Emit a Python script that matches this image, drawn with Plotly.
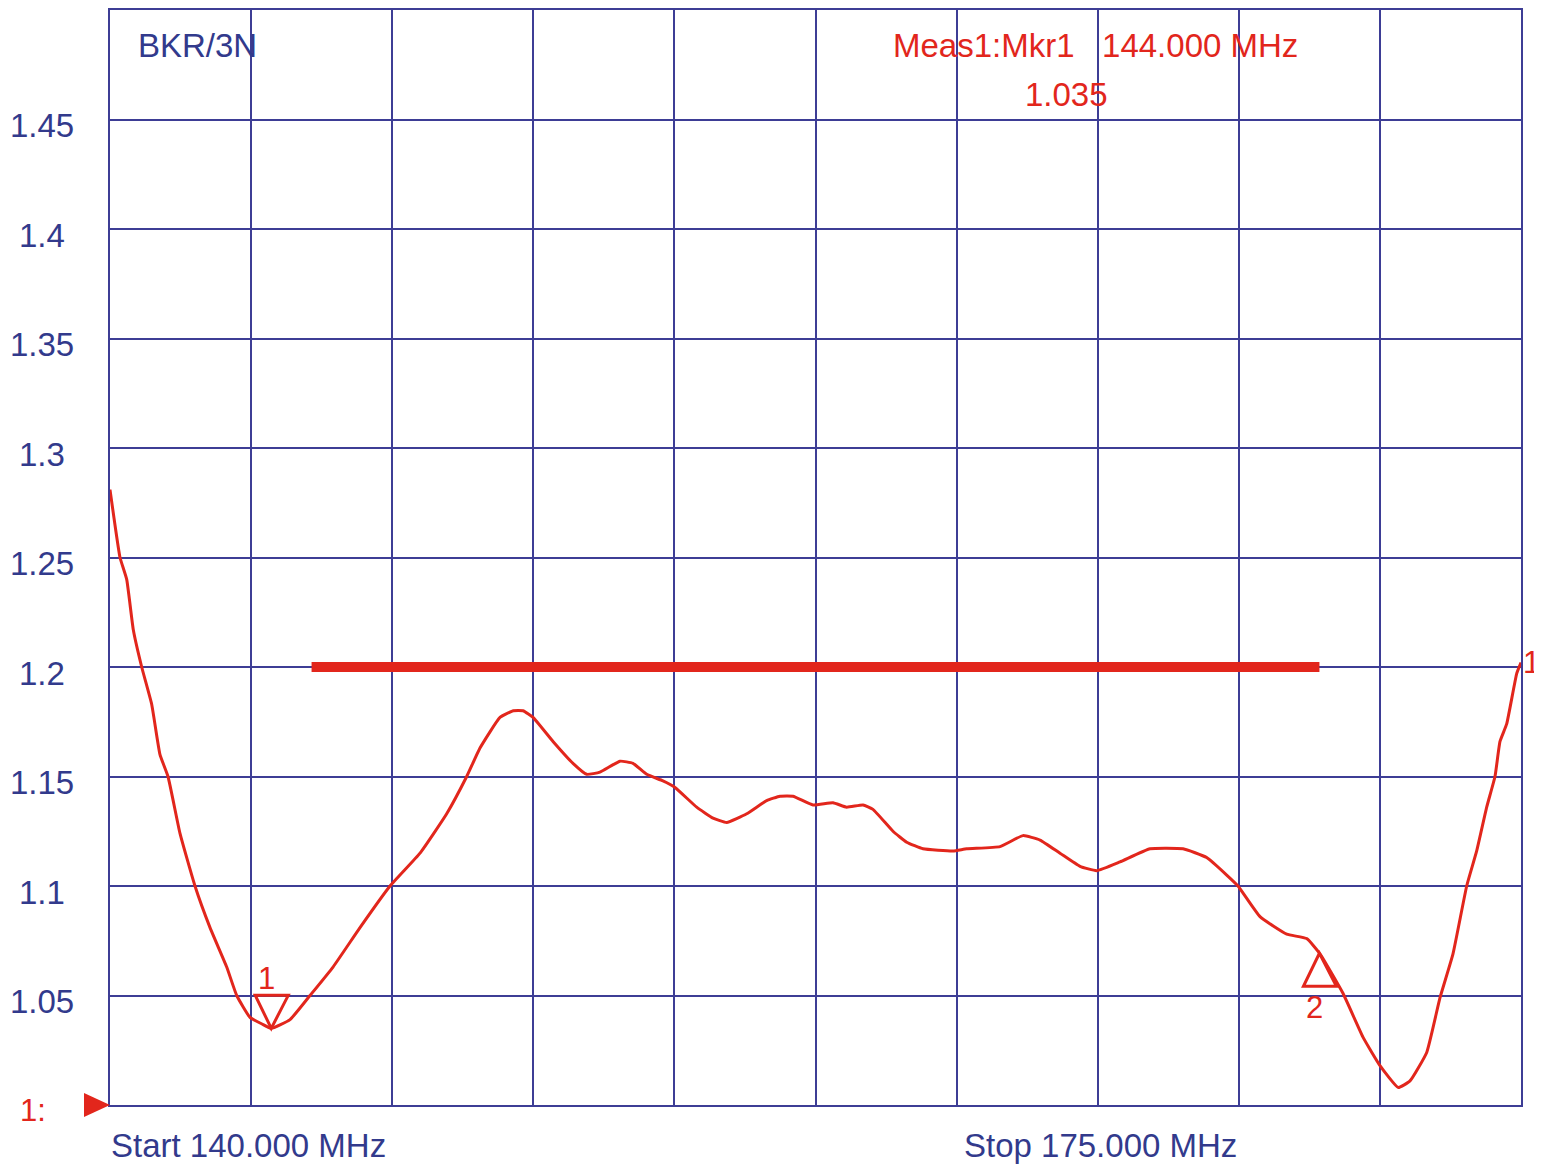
import numpy as np
import plotly.graph_objects as go

# ---- data ----
freq_mhz = [140.000, 140.099, 140.248, 140.414, 140.578, 140.786, 141.034, 141.240, 141.439, 141.736,
            142.108, 142.481, 142.895, 143.143, 143.473, 143.770, 144.000, 144.465, 144.961, 145.532,
            146.201, 146.946, 147.690, 148.352, 148.848, 149.178, 149.674, 150.004, 150.245, 150.493,
            150.989, 151.485, 151.825, 152.154, 152.651, 152.973, 153.313, 153.717, 154.015, 154.553,
            154.958, 155.297, 155.794, 156.290, 156.620, 156.942, 157.438, 157.934, 158.274, 158.678,
            158.926, 159.422, 159.762, 160.167, 160.911, 161.251, 162.077, 162.647, 163.069, 163.565,
            164.061, 164.475, 165.053, 165.798, 166.616, 167.204, 167.700, 167.980, 168.526, 169.188,
            169.684, 170.014, 170.584, 171.080, 171.502, 171.956, 172.247, 172.661, 172.991, 173.313,
            173.653, 173.901, 174.149, 174.355, 174.479, 174.645, 174.893, 175.000]
vswr = [1.281, 1.268, 1.250, 1.240, 1.217, 1.200, 1.183, 1.160, 1.150, 1.124,
        1.100, 1.081, 1.063, 1.050, 1.040, 1.037, 1.035, 1.039, 1.050, 1.063,
        1.081, 1.100, 1.115, 1.133, 1.150, 1.163, 1.177, 1.180, 1.180, 1.177,
        1.166, 1.156, 1.151, 1.152, 1.157, 1.156, 1.151, 1.148, 1.145, 1.136,
        1.131, 1.129, 1.133, 1.139, 1.141, 1.141, 1.137, 1.138, 1.136, 1.137,
        1.135, 1.125, 1.120, 1.117, 1.116, 1.117, 1.118, 1.123, 1.121, 1.115,
        1.109, 1.107, 1.111, 1.117, 1.117, 1.113, 1.105, 1.100, 1.086, 1.078,
        1.076, 1.069, 1.051, 1.031, 1.018, 1.008, 1.011, 1.024, 1.049, 1.069,
        1.100, 1.116, 1.136, 1.150, 1.166, 1.174, 1.197, 1.202]

limit_freqs = [145.0, 170.0]
limit_value = 1.2
marker_freqs = [144.0, 170.0]
marker_labels = ["1", "2"]
y_tick_values = [1.45, 1.4, 1.35, 1.3, 1.25, 1.2, 1.15, 1.1, 1.05]
y_tick_labels = ["1.45", "1.4", "1.35", "1.3", "1.25", "1.2", "1.15", "1.1", "1.05"]
start_mhz, stop_mhz = 140.0, 175.0
y_min, y_max = 1.0, 1.5
title_text = "BKR/3N"

NAVY = "#323a8c"
GRID = "#3d3d95"
RED = "#e2261c"
FONT = "Liberation Sans, Arial, sans-serif"
FS = 33

marker_vals = [float(np.interp(f, freq_mhz, vswr)) for f in marker_freqs]

fig = go.Figure()
fig.add_trace(go.Scatter(x=freq_mhz, y=vswr, mode="lines",
                         line=dict(color=RED, width=3, shape="spline", smoothing=0.4),
                         hoverinfo="skip", showlegend=False, cliponaxis=False))
fig.add_trace(go.Scatter(x=limit_freqs, y=[limit_value, limit_value], mode="lines",
                         line=dict(color=RED, width=10), showlegend=False, hoverinfo="skip"))

shapes = []
annotations = []
# marker triangles (1 points down from above, 2 points up from below)
for f, v, lab in zip(marker_freqs, marker_vals, marker_labels):
    if lab == "1":
        path = "M 0 0 L -16 33 L 17 33 Z"
        ys = 50
    else:
        path = "M 0 0 L -16 -33 L 17 -33 Z"
        ys = -54
    shapes.append(dict(type="path", xref="x", yref="y", xsizemode="pixel", ysizemode="pixel",
                       xanchor=f, yanchor=v, path=path,
                       line=dict(color=RED, width=3), fillcolor="rgba(0,0,0,0)"))
    annotations.append(dict(x=f, y=v, xref="x", yref="y", text=lab, showarrow=False,
                            xshift=-5, yshift=ys, font=dict(family=FONT, size=31, color=RED)))

# reference level pointer at left
shapes.append(dict(type="path", xref="paper", yref="paper", xsizemode="pixel", ysizemode="pixel",
                   xanchor=0, yanchor=0, path="M 0 0 L -26 12 L -26 -12 Z",
                   line=dict(color=RED, width=0), fillcolor=RED))
annotations.append(dict(x=-0.0546, y=y_min, xref="paper", yref="y", text="1:", showarrow=False,
                        xanchor="center", yshift=-5, font=dict(family=FONT, size=31, color=RED)))
# trace end label
annotations.append(dict(x=freq_mhz[-1], y=vswr[-1], xref="x", yref="y", text="1", showarrow=False,
                        xanchor="left", xshift=0, yshift=0, font=dict(family=FONT, size=31, color=RED)))

# y tick labels
for v, t in zip(y_tick_values, y_tick_labels):
    annotations.append(dict(x=-0.0482, y=v, xref="paper", yref="y", text=t, showarrow=False,
                            xanchor="center", yshift=-6, font=dict(family=FONT, size=FS, color=NAVY)))

# header texts
annotations.append(dict(x=0.0185, y=0.9672, xref="paper", yref="paper", text=title_text,
                        showarrow=False, xanchor="left", yanchor="middle",
                        font=dict(family=FONT, size=FS, color=NAVY)))
annotations.append(dict(x=0.6982, y=0.9672, xref="paper", yref="paper",
                        text=f"Meas1:Mkr1\u00a0\u00a0\u00a0{marker_freqs[0]:.3f} MHz",
                        showarrow=False, xanchor="center", yanchor="middle",
                        font=dict(family=FONT, size=FS, color=RED)))
annotations.append(dict(x=0.678, y=0.9225, xref="paper", yref="paper",
                        text=f"{marker_vals[0]:.3f}",
                        showarrow=False, xanchor="center", yanchor="middle",
                        font=dict(family=FONT, size=FS, color=RED)))
annotations.append(dict(x=-0.001, y=-0.0374, xref="paper", yref="paper",
                        text=f"Start {start_mhz:.3f} MHz", showarrow=False,
                        xanchor="left", yanchor="middle", font=dict(family=FONT, size=FS, color=NAVY)))
annotations.append(dict(x=0.6035, y=-0.0374, xref="paper", yref="paper",
                        text=f"Stop {stop_mhz:.3f} MHz", showarrow=False,
                        xanchor="left", yanchor="middle", font=dict(family=FONT, size=FS, color=NAVY)))

# page body has an 8px default margin, so the figure is sized/offset to compensate
fig.update_layout(
    width=1534, height=1159,
    margin=dict(l=102, r=21, t=0, b=62),
    paper_bgcolor="white", plot_bgcolor="white",
    showlegend=False,
    shapes=shapes, annotations=annotations,
    xaxis=dict(range=[start_mhz, stop_mhz], dtick=(stop_mhz - start_mhz) / 10, tick0=start_mhz,
               showgrid=True, gridcolor=GRID, gridwidth=2, zeroline=False,
               showline=True, linecolor=GRID, linewidth=2, mirror=True,
               showticklabels=False, ticks=""),
    yaxis=dict(range=[y_min, y_max], dtick=0.05, tick0=y_min,
               showgrid=True, gridcolor=GRID, gridwidth=2, zeroline=False,
               showline=True, linecolor=GRID, linewidth=2, mirror=True,
               showticklabels=False, ticks=""),
)

fig.write_html("out.html")
